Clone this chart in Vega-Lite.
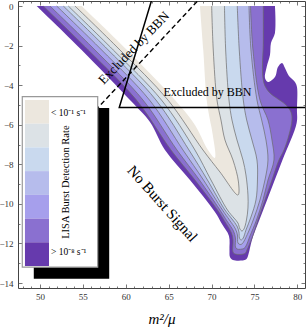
{
  "$schema": "https://vega.github.io/schema/vega-lite/v6.json",
  "width": 287,
  "height": 287,
  "autosize": {"type": "none"},
  "padding": {"left": 18, "top": 1, "right": 2, "bottom": 39},
  "config": {"view": {"stroke": "#444", "strokeWidth": 1}, "font": "Liberation Serif"},
  "datasets": {
    "contours": [
      {"c":1,"o":1,"x":49.615,"y":0},{"c":1,"o":2,"x":54.860,"y":-2.223},{"c":1,"o":3,"x":60.490,"y":-4.750},{"c":1,"o":4,"x":62.821,"y":-5.862},{"c":1,"o":5,"x":64.569,"y":-7.276},{"c":1,"o":6,"x":67.483,"y":-8.792},{"c":1,"o":7,"x":70.396,"y":-10.409},{"c":1,"o":8,"x":71.213,"y":-11.016},{"c":1,"o":9,"x":72.029,"y":-11.622},{"c":1,"o":10,"x":72.087,"y":-12.329},{"c":1,"o":11,"x":72.145,"y":-12.683},{"c":1,"o":12,"x":72.495,"y":-12.835},{"c":1,"o":13,"x":74.009,"y":-12.810},{"c":1,"o":14,"x":74.242,"y":-12.632},{"c":1,"o":15,"x":74.709,"y":-11.824},{"c":1,"o":16,"x":75.571,"y":-10.814},{"c":1,"o":17,"x":76.469,"y":-9.803},{"c":1,"o":18,"x":78.264,"y":-7.782},{"c":1,"o":19,"x":79.918,"y":-5.912},{"c":1,"o":20,"x":79.953,"y":-5.255},{"c":1,"o":21,"x":79.953,"y":-4.093},{"c":1,"o":22,"x":79.720,"y":-3.840},{"c":1,"o":23,"x":79.021,"y":-3.537},{"c":1,"o":24,"x":78.555,"y":-3.133},{"c":1,"o":25,"x":78.205,"y":-2.880},{"c":1,"o":26,"x":77.739,"y":-3.082},{"c":1,"o":27,"x":77.390,"y":-3.588},{"c":1,"o":28,"x":76.574,"y":-3.840},{"c":1,"o":29,"x":76.224,"y":-3.638},{"c":1,"o":30,"x":76.422,"y":-3.082},{"c":1,"o":31,"x":76.807,"y":-2.476},{"c":1,"o":32,"x":76.924,"y":-1.870},{"c":1,"o":33,"x":77.390,"y":-1.364},{"c":1,"o":34,"x":77.390,"y":0},
      {"c":2,"o":1,"x":50.385,"y":0},{"c":2,"o":2,"x":55.629,"y":-2.223},{"c":2,"o":3,"x":61.247,"y":-4.750},{"c":2,"o":4,"x":65.268,"y":-7.276},{"c":2,"o":5,"x":68.060,"y":-8.792},{"c":2,"o":6,"x":70.688,"y":-10.308},{"c":2,"o":7,"x":71.504,"y":-10.864},{"c":2,"o":8,"x":72.320,"y":-11.470},{"c":2,"o":9,"x":72.495,"y":-11.824},{"c":2,"o":10,"x":72.495,"y":-12.430},{"c":2,"o":11,"x":72.728,"y":-12.531},{"c":2,"o":12,"x":73.893,"y":-12.506},{"c":2,"o":13,"x":74.126,"y":-12.329},{"c":2,"o":14,"x":74.709,"y":-11.723},{"c":2,"o":15,"x":75.408,"y":-10.814},{"c":2,"o":16,"x":76.224,"y":-9.803},{"c":2,"o":17,"x":77.040,"y":-8.792},{"c":2,"o":18,"x":77.856,"y":-7.782},{"c":2,"o":19,"x":78.439,"y":-7.276},{"c":2,"o":20,"x":79.021,"y":-6.518},{"c":2,"o":21,"x":79.371,"y":-5.760},{"c":2,"o":22,"x":79.254,"y":-5.356},{"c":2,"o":23,"x":78.555,"y":-4.952},{"c":2,"o":24,"x":77.739,"y":-4.699},{"c":2,"o":25,"x":76.807,"y":-4.396},{"c":2,"o":26,"x":76.224,"y":-4.042},{"c":2,"o":27,"x":75.991,"y":-3.638},{"c":2,"o":28,"x":75.932,"y":-2.981},{"c":2,"o":29,"x":76.026,"y":-1.971},{"c":2,"o":30,"x":76.026,"y":0},
      {"c":3,"o":1,"x":51.166,"y":0},{"c":3,"o":2,"x":56.410,"y":-2.223},{"c":3,"o":3,"x":62.005,"y":-4.750},{"c":3,"o":4,"x":65.967,"y":-7.276},{"c":3,"o":5,"x":68.590,"y":-8.792},{"c":3,"o":6,"x":70.979,"y":-10.308},{"c":3,"o":7,"x":71.795,"y":-10.864},{"c":3,"o":8,"x":72.553,"y":-11.369},{"c":3,"o":9,"x":72.786,"y":-11.723},{"c":3,"o":10,"x":72.786,"y":-12.178},{"c":3,"o":11,"x":72.961,"y":-12.279},{"c":3,"o":12,"x":73.776,"y":-12.254},{"c":3,"o":13,"x":74.009,"y":-12.127},{"c":3,"o":14,"x":74.476,"y":-11.622},{"c":3,"o":15,"x":75.233,"y":-10.814},{"c":3,"o":16,"x":75.991,"y":-9.803},{"c":3,"o":17,"x":76.574,"y":-8.792},{"c":3,"o":18,"x":77.273,"y":-7.782},{"c":3,"o":19,"x":77.040,"y":-6.771},{"c":3,"o":20,"x":76.574,"y":-5.760},{"c":3,"o":21,"x":75.641,"y":-4.750},{"c":3,"o":22,"x":74.825,"y":-2.223},{"c":3,"o":23,"x":74.534,"y":0},
      {"c":4,"o":1,"x":51.946,"y":0},{"c":4,"o":2,"x":57.191,"y":-2.223},{"c":4,"o":3,"x":62.763,"y":-4.750},{"c":4,"o":4,"x":66.667,"y":-7.276},{"c":4,"o":5,"x":69.056,"y":-8.792},{"c":4,"o":6,"x":71.271,"y":-10.308},{"c":4,"o":7,"x":72.087,"y":-10.814},{"c":4,"o":8,"x":72.786,"y":-11.268},{"c":4,"o":9,"x":73.019,"y":-11.571},{"c":4,"o":10,"x":73.077,"y":-11.975},{"c":4,"o":11,"x":73.310,"y":-12.051},{"c":4,"o":12,"x":73.543,"y":-12.026},{"c":4,"o":13,"x":74.242,"y":-11.470},{"c":4,"o":14,"x":74.942,"y":-10.713},{"c":4,"o":15,"x":75.641,"y":-9.803},{"c":4,"o":16,"x":76.224,"y":-8.792},{"c":4,"o":17,"x":76.574,"y":-7.782},{"c":4,"o":18,"x":76.341,"y":-6.771},{"c":4,"o":19,"x":75.839,"y":-5.760},{"c":4,"o":20,"x":75.291,"y":-4.750},{"c":4,"o":21,"x":74.592,"y":-2.223},{"c":4,"o":22,"x":74.359,"y":0},
      {"c":5,"o":1,"x":52.716,"y":0},{"c":5,"o":2,"x":57.960,"y":-2.223},{"c":5,"o":3,"x":63.520,"y":-4.750},{"c":5,"o":4,"x":67.366,"y":-7.276},{"c":5,"o":5,"x":69.522,"y":-8.792},{"c":5,"o":6,"x":71.562,"y":-10.308},{"c":5,"o":7,"x":72.378,"y":-10.763},{"c":5,"o":8,"x":72.961,"y":-11.117},{"c":5,"o":9,"x":73.193,"y":-11.420},{"c":5,"o":10,"x":73.252,"y":-11.723},{"c":5,"o":11,"x":73.426,"y":-11.824},{"c":5,"o":12,"x":73.660,"y":-11.748},{"c":5,"o":13,"x":74.009,"y":-11.319},{"c":5,"o":14,"x":74.592,"y":-10.662},{"c":5,"o":15,"x":75.175,"y":-9.803},{"c":5,"o":16,"x":75.350,"y":-8.792},{"c":5,"o":17,"x":75.291,"y":-7.782},{"c":5,"o":18,"x":74.709,"y":-6.771},{"c":5,"o":19,"x":74.091,"y":-5.760},{"c":5,"o":20,"x":73.695,"y":-4.750},{"c":5,"o":21,"x":73.228,"y":-2.223},{"c":5,"o":22,"x":72.996,"y":0},
      {"c":6,"o":1,"x":53.298,"y":0},{"c":6,"o":2,"x":58.543,"y":-2.223},{"c":6,"o":3,"x":64.161,"y":-4.750},{"c":6,"o":4,"x":68.060,"y":-7.276},{"c":6,"o":5,"x":69.930,"y":-8.792},{"c":6,"o":6,"x":71.854,"y":-10.308},{"c":6,"o":7,"x":72.611,"y":-10.713},{"c":6,"o":8,"x":73.077,"y":-10.965},{"c":6,"o":9,"x":73.310,"y":-11.268},{"c":6,"o":10,"x":73.543,"y":-11.369},{"c":6,"o":11,"x":73.776,"y":-11.268},{"c":6,"o":12,"x":74.068,"y":-10.814},{"c":6,"o":13,"x":74.242,"y":-10.207},{"c":6,"o":14,"x":74.242,"y":-9.550},{"c":6,"o":15,"x":74.009,"y":-8.540},{"c":6,"o":16,"x":73.660,"y":-7.782},{"c":6,"o":17,"x":72.961,"y":-6.771},{"c":6,"o":18,"x":72.378,"y":-5.760},{"c":6,"o":19,"x":72.029,"y":-4.750},{"c":6,"o":20,"x":71.644,"y":-2.223},{"c":6,"o":21,"x":71.504,"y":0},
      {"c":7,"o":1,"x":54.079,"y":0},{"c":7,"o":2,"x":59.324,"y":-2.223},{"c":7,"o":3,"x":64.918,"y":-4.750},{"c":7,"o":4,"x":68.998,"y":-7.276},{"c":7,"o":5,"x":70.979,"y":-8.388},{"c":7,"o":6,"x":73.077,"y":-9.550},{"c":7,"o":7,"x":73.135,"y":-8.893},{"c":7,"o":8,"x":72.495,"y":-7.782},{"c":7,"o":9,"x":71.562,"y":-6.771},{"c":7,"o":10,"x":71.096,"y":-5.760},{"c":7,"o":11,"x":70.629,"y":-4.750},{"c":7,"o":12,"x":70.198,"y":-2.223},{"c":7,"o":13,"x":70.012,"y":0},
      {"c":8,"o":1,"x":54.860,"y":0},{"c":8,"o":2,"x":60.140,"y":-2.223},{"c":8,"o":3,"x":65.734,"y":-4.750},{"c":8,"o":4,"x":68.060,"y":-6.013},{"c":8,"o":5,"x":69.580,"y":-7.276},{"c":8,"o":6,"x":70.396,"y":-7.681},{"c":8,"o":7,"x":70.047,"y":-6.266},{"c":8,"o":8,"x":69.814,"y":-5.760},{"c":8,"o":9,"x":69.429,"y":-4.750},{"c":8,"o":10,"x":69.033,"y":-2.223},{"c":8,"o":11,"x":68.648,"y":0}
    ],
    "swatches": [
      {"c":7,"y1":-4.750,"y2":-5.947},
      {"c":6,"y1":-5.947,"y2":-7.145},
      {"c":5,"y1":-7.145,"y2":-8.343},
      {"c":4,"y1":-8.343,"y2":-9.545},
      {"c":3,"y1":-9.545,"y2":-10.743},
      {"c":2,"y1":-10.743,"y2":-11.940},
      {"c":1,"y1":-11.940,"y2":-13.138}
    ]
  },
  "resolve": {"axis": {"x": "independent", "y": "independent"}},
  "layer": [
    {
      "data": {"name": "contours"},
      "mark": {"type": "line", "strokeWidth": 0.7, "clip": true, "interpolate": "catmull-rom"},
      "encoding": {
        "x": {"field": "x", "type": "quantitative",
          "scale": {"domain": [47.44, 80.89], "nice": false, "zero": false},
          "axis": {"orient": "bottom", "values": [48,49,50,51,52,53,54,55,56,57,58,59,60,61,62,63,64,65,66,67,68,69,70,71,72,73,74,75,76,77,78,79,80],
            "format": "d",
            "labelExpr": "datum.value % 5 === 0 ? datum.label : ''",
            "tickSize": {"condition": {"test": "datum.value % 5 === 0", "value": -4}, "value": -2},
            "domain": false, "grid": false, "tickColor": "#555", "tickWidth": 0.8,
            "labelFont": "Liberation Serif", "labelFontSize": 9, "labelColor": "#333", "labelPadding": 8,
            "title": "m²/μ", "titleFont": "Liberation Serif", "titleFontStyle": "italic", "titleFontWeight": "normal", "titleFontSize": 15, "titleColor": "#000", "titlePadding": 10}},
        "y": {"field": "y", "type": "quantitative",
          "scale": {"domain": [-14.25, 0.253], "nice": false, "zero": false},
          "axis": {"orient": "left", "values": [-14,-13.5,-13,-12.5,-12,-11.5,-11,-10.5,-10,-9.5,-9,-8.5,-8,-7.5,-7,-6.5,-6,-5.5,-5,-4.5,-4,-3.5,-3,-2.5,-2,-1.5,-1,-0.5,0],
            "format": "d",
            "labelExpr": "datum.value % 2 === 0 ? datum.label : ''",
            "tickSize": {"condition": {"test": "datum.value % 2 === 0", "value": -4}, "value": -2},
            "domain": false, "grid": false, "tickColor": "#555", "tickWidth": 0.8,
            "labelFont": "Liberation Serif", "labelFontSize": 9, "labelColor": "#333", "labelPadding": 9,
            "title": null}},
        "order": {"field": "o", "type": "quantitative"},
        "fill": {"field": "c", "type": "ordinal", "legend": null,
          "scale": {"domain": [1,2,3,4,5,6,7,8], "range": ["#663AAD","#8A70D0","#A69FEC","#B6BCEC","#C9D9EE","#DCE2E6","#ECE7DE","#FFFFFF"]}},
        "stroke": {"field": "c", "type": "ordinal", "legend": null,
          "scale": {"domain": [1,2,3,4,5,6,7,8], "range": ["rgba(0,0,0,0)","#6a6a6a","#6a6a6a","#6a6a6a","#6a6a6a","#6a6a6a","#6a6a6a","rgba(0,0,0,0)"]}}
      }
    },
    {
      "data": {"values": [
        {"o": 1, "x": 63.02, "y": 0.303},
        {"o": 2, "x": 59.24, "y": -5.13},
        {"o": 3, "x": 80.9, "y": -5.13}
      ]},
      "mark": {"type": "line", "color": "#000", "strokeWidth": 1.5, "clip": true},
      "encoding": {
        "x": {"field": "x", "type": "quantitative",
          "axis": {"orient": "top", "values": [48,49,50,51,52,53,54,55,56,57,58,59,60,61,62,63,64,65,66,67,68,69,70,71,72,73,74,75,76,77,78,79,80],
            "labels": false, "domain": false, "grid": false, "tickColor": "#555", "tickWidth": 0.8,
            "tickSize": {"condition": {"test": "datum.value % 5 === 0", "value": -4}, "value": -2}, "title": null}},
        "y": {"field": "y", "type": "quantitative",
          "axis": {"orient": "right", "values": [-14,-13.5,-13,-12.5,-12,-11.5,-11,-10.5,-10,-9.5,-9,-8.5,-8,-7.5,-7,-6.5,-6,-5.5,-5,-4.5,-4,-3.5,-3,-2.5,-2,-1.5,-1,-0.5,0],
            "labels": false, "domain": false, "grid": false, "tickColor": "#555", "tickWidth": 0.8,
            "tickSize": {"condition": {"test": "datum.value % 2 === 0", "value": -4}, "value": -2}, "title": null}},
        "order": {"field": "o", "type": "quantitative"}
      }
    },
    {
      "data": {"values": [
        {"o": 1, "x": 55.83, "y": -5.57},
        {"o": 2, "x": 68.48, "y": 0.303}
      ]},
      "mark": {"type": "line", "color": "#000", "strokeWidth": 1.4, "strokeDash": [5, 3], "clip": true},
      "encoding": {
        "x": {"field": "x", "type": "quantitative", "axis": null},
        "y": {"field": "y", "type": "quantitative", "axis": null},
        "order": {"field": "o", "type": "quantitative"}
      }
    },
    {
      "data": {"values": [{}]},
      "mark": {"type": "text", "text": "Excluded by BBN", "font": "Liberation Serif", "fontSize": 13, "angle": 314, "align": "center", "baseline": "middle", "color": "#000"},
      "encoding": {"x": {"datum": 60.96, "type": "quantitative", "axis": null}, "y": {"datum": -2.12, "type": "quantitative", "axis": null}}
    },
    {
      "data": {"values": [{}]},
      "mark": {"type": "text", "text": "Excluded by BBN", "font": "Liberation Serif", "fontSize": 12, "align": "center", "baseline": "middle", "color": "#000"},
      "encoding": {"x": {"datum": 69.52, "type": "quantitative", "axis": null}, "y": {"datum": -4.37, "type": "quantitative", "axis": null}}
    },
    {
      "data": {"values": [{}]},
      "mark": {"type": "text", "text": "No Burst Signal", "font": "Liberation Serif", "fontSize": 15, "angle": 48, "align": "center", "baseline": "middle", "color": "#000"},
      "encoding": {"x": {"datum": 64.28, "type": "quantitative", "axis": null}, "y": {"datum": -9.98, "type": "quantitative", "axis": null}}
    },
    {
      "data": {"values": [{}]},
      "mark": {"type": "rect", "fill": "#000"},
      "encoding": {
        "x": {"datum": 49.28, "type": "quantitative", "axis": null}, "x2": {"datum": 58.07},
        "y": {"datum": -5.16, "type": "quantitative", "axis": null}, "y2": {"datum": -13.78}
      }
    },
    {
      "data": {"values": [{}]},
      "mark": {"type": "rect", "fill": "#fff", "stroke": "#999", "strokeWidth": 1.2},
      "encoding": {
        "x": {"datum": 47.94, "type": "quantitative", "axis": null}, "x2": {"datum": 56.73},
        "y": {"datum": -4.58, "type": "quantitative", "axis": null}, "y2": {"datum": -13.2}
      }
    },
    {
      "data": {"name": "swatches"},
      "mark": {"type": "rect"},
      "encoding": {
        "x": {"datum": 48.25, "type": "quantitative", "axis": null}, "x2": {"datum": 51.05},
        "y": {"field": "y1", "type": "quantitative", "axis": null}, "y2": {"field": "y2"},
        "fill": {"field": "c", "type": "ordinal", "legend": null}
      }
    },
    {
      "data": {"values": [{}]},
      "mark": {"type": "text", "text": "< 10⁻¹ s⁻¹", "font": "Liberation Serif", "fontSize": 9.5, "align": "left", "baseline": "middle", "color": "#000"},
      "encoding": {"x": {"datum": 51.28, "type": "quantitative", "axis": null}, "y": {"datum": -5.41, "type": "quantitative", "axis": null}}
    },
    {
      "data": {"values": [{}]},
      "mark": {"type": "text", "text": "> 10⁻⁸ s⁻¹", "font": "Liberation Serif", "fontSize": 9.5, "align": "left", "baseline": "middle", "color": "#000"},
      "encoding": {"x": {"datum": 51.28, "type": "quantitative", "axis": null}, "y": {"datum": -12.43, "type": "quantitative", "axis": null}}
    },
    {
      "data": {"values": [{}]},
      "mark": {"type": "text", "text": "LISA Burst Detection Rate", "font": "Liberation Serif", "fontSize": 10.5, "angle": 270, "align": "center", "baseline": "middle", "color": "#000"},
      "encoding": {"x": {"datum": 53.0, "type": "quantitative", "axis": null}, "y": {"datum": -8.9, "type": "quantitative", "axis": null}}
    }
  ]
}
